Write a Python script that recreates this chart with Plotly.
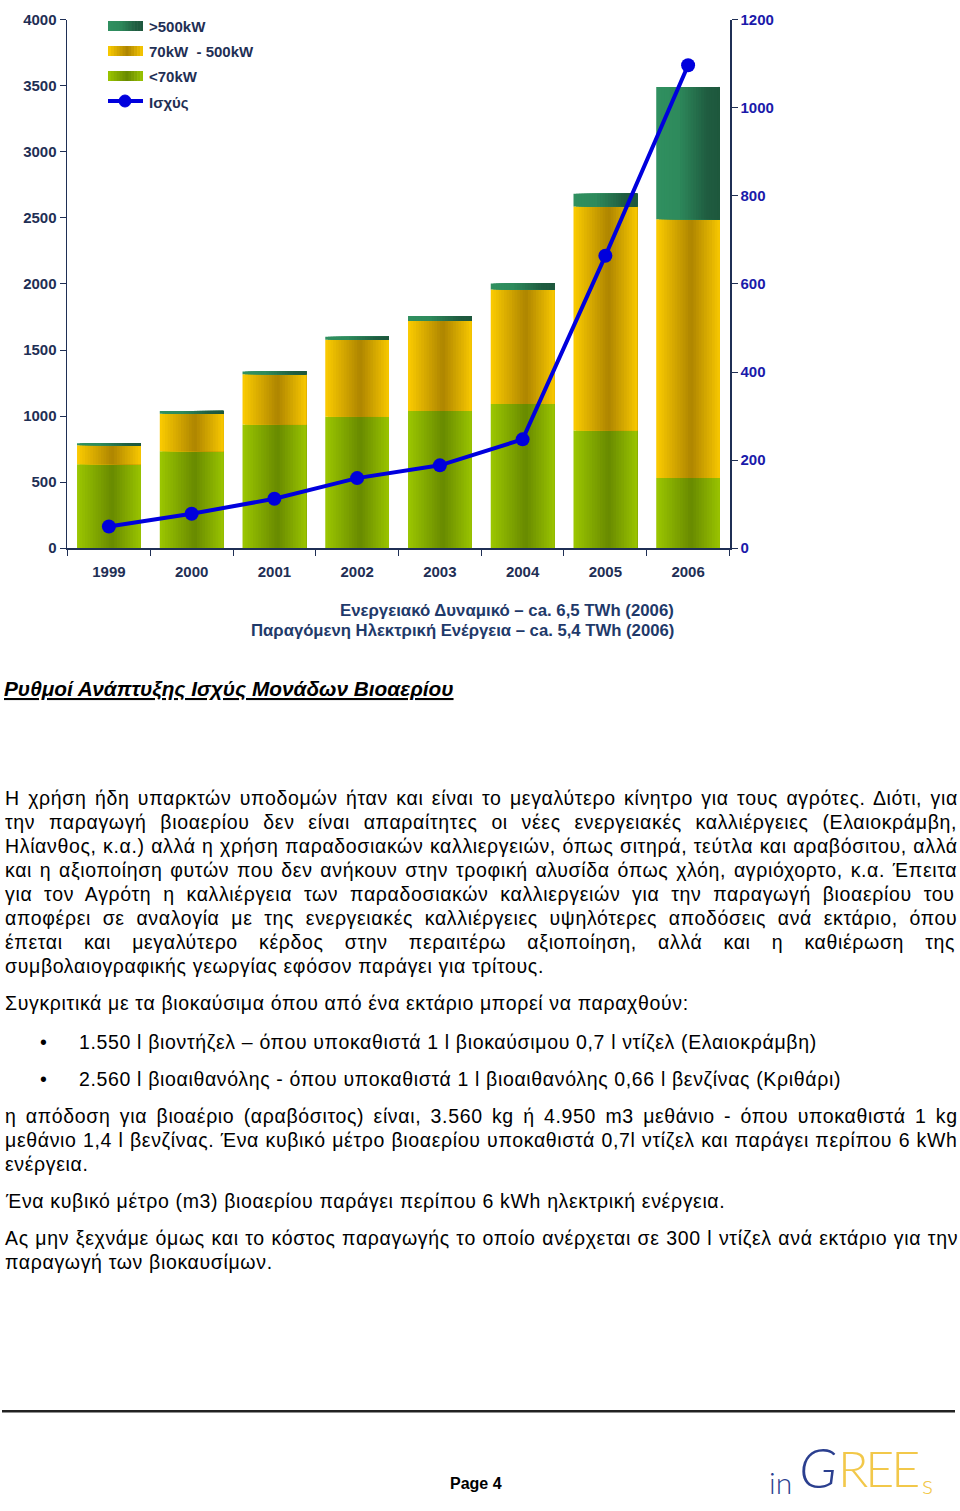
import plotly.graph_objects as go

# ---------------- data ----------------
years = ['1999', '2000', '2001', '2002', '2003', '2004', '2005', '2006']
small_lt70 = [635, 733, 935, 994, 1039, 1092, 890, 531]        # <70kW
mid_70_500 = [143, 284, 381, 584, 681, 867, 1697, 1959]        # 70kW - 500kW
large_gt500 = [15, 22, 22, 22, 37, 45, 97, 1002]               # >500kW
power = [49, 78, 112, 159, 188, 247, 664, 1097]                # Ισχύς (right axis)

left_ticks = [0, 500, 1000, 1500, 2000, 2500, 3000, 3500, 4000]
right_ticks = [0, 200, 400, 600, 800, 1000, 1200]

series_names = ['<70kW', '70kW  - 500kW', '>500kW']
line_name = 'Ισχύς'

W, H = 960, 1511
PX0, PX1, PY0, PY1 = 67, 730, 12, 547   # plot area in target px

NAVY = '#1f2f55'
BLUE = '#0000dd'
FONT = 'Arial, Liberation Sans, sans-serif'

green_stops = [(0, (0x9c, 0xc7, 0x00)), (0.55, (0x68, 0x8a, 0x00)), (1, (0x9a, 0xc4, 0x00))]
yellow_stops = [(0, (0xfc, 0xcc, 0x00)), (0.55, (0xae, 0x85, 0x00)), (1, (0xf8, 0xc8, 0x00))]
dgreen_stops = [(0, (0x30, 0x90, 0x60)), (0.35, (0x2e, 0x8a, 0x5c)), (0.8, (0x1f, 0x5c, 0x40)), (1, (0x1e, 0x57, 0x3d))]


def grad(stops, t):
    for (t0, c0), (t1, c1) in zip(stops[:-1], stops[1:]):
        if t0 <= t <= t1:
            f = (t - t0) / (t1 - t0) if t1 > t0 else 0
            c = [round(a + (b - a) * f) for a, b in zip(c0, c1)]
            return 'rgb(%d,%d,%d)' % tuple(c)
    return 'rgb(%d,%d,%d)' % stops[-1][1]


# the photographed page comes out offset and slightly squeezed vertically; compensate
Y_OFF, Y_SCALE = 8.0, 0.9886


def ymap(y):
    return min(max((y - Y_OFF) / Y_SCALE, 0.0), H)


def px2paper(x, y):
    return x / W, 1 - ymap(y) / H


fig = go.Figure()

NSTRIP = 24
BW = 0.77
segments = [
    (small_lt70, [0] * len(years), green_stops),
    (mid_70_500, small_lt70, yellow_stops),
    (large_gt500, [a + b for a, b in zip(small_lt70, mid_70_500)], dgreen_stops),
]
for (vals, base, stops), name in zip(segments, series_names):
    for k in range(NSTRIP):
        start = -BW / 2 + k * BW / NSTRIP
        width = BW / 2 - start
        t = (k + 0.5) / NSTRIP
        fig.add_trace(go.Bar(
            x=years, y=vals, base=base, offset=start, width=width,
            marker=dict(color=grad(stops, t), line=dict(width=0)),
            name=name, showlegend=False, hoverinfo='skip'))

fig.add_trace(go.Scatter(
    x=years, y=power, yaxis='y2', mode='lines+markers', name=line_name,
    line=dict(color=BLUE, width=4), marker=dict(color=BLUE, size=14),
    showlegend=False, hoverinfo='skip'))

tickfont = dict(family=FONT, size=15, color=NAVY, weight='bold')
# top of the value axes kept low enough that the top tick labels stay inside the page
ydom = [1 - ymap(PY1) / H, 1 - 11.0 / H]
fig.update_layout(
    width=W, height=H, margin=dict(l=0, r=0, t=0, b=0),
    paper_bgcolor='white', plot_bgcolor='white', barmode='overlay',
    showlegend=False, hovermode=False,
    xaxis=dict(domain=[PX0 / W, PX1 / W], type='category', showline=True,
               linecolor=NAVY, linewidth=1.5, ticks='outside', tickson='boundaries',
               ticklen=6, tickcolor=NAVY, tickfont=tickfont, showgrid=False,
               zeroline=False, ticklabelstandoff=9),
    yaxis=dict(domain=ydom, range=[0, 4000], tickvals=left_ticks,
               showline=True, linecolor=NAVY, linewidth=1.5, ticks='outside', ticklen=6,
               tickcolor=NAVY, tickfont=tickfont, showgrid=False, zeroline=False,
               ticklabeloverflow='allow'),
    yaxis2=dict(overlaying='y', side='right', anchor='x', range=[0, 1200],
                tickvals=right_ticks, showline=True, linecolor=NAVY, linewidth=1.5,
                ticks='outside', ticklen=6, tickcolor=NAVY,
                tickfont=dict(family=FONT, size=15, color='#1a1aaa', weight='bold'),
                showgrid=False, zeroline=False, ticklabeloverflow='allow'),
)

shapes = []
annotations = []

# ---- custom legend ----
legend_items = [('>500kW', dgreen_stops, 25), ('70kW  - 500kW', yellow_stops, 50), ('<70kW', green_stops, 75)]
for label, stops, yc in legend_items:
    n = 12
    for k in range(n):
        xa = 108 + 35 * k / n
        xb = 108 + 35 * (k + 1) / n + 0.6
        x0p, y0p = px2paper(xa, yc - 5)
        x1p, y1p = px2paper(min(xb, 143), yc + 5)
        shapes.append(dict(type='rect', xref='paper', yref='paper', x0=x0p, x1=x1p,
                           y0=y1p, y1=y0p, line=dict(width=0),
                           fillcolor=grad(stops, (k + 0.5) / n), layer='above'))
    xp, yp = px2paper(147, yc)
    annotations.append(dict(text=label, x=xp, y=yp, xref='paper', yref='paper',
                            xanchor='left', yanchor='middle', showarrow=False,
                            font=dict(family=FONT, size=15, color=NAVY, weight='bold')))
x0p, yp = px2paper(108, 100)
x1p, _ = px2paper(143, 100)
shapes.append(dict(type='line', xref='paper', yref='paper', x0=x0p, x1=x1p, y0=yp, y1=yp,
                   line=dict(color=BLUE, width=4)))
cx0, cy0 = px2paper(119, 94)
cx1, cy1 = px2paper(131, 106)
shapes.append(dict(type='circle', xref='paper', yref='paper', x0=cx0, x1=cx1, y0=cy1, y1=cy0,
                   fillcolor=BLUE, line=dict(color=BLUE, width=1)))
xp, yp = px2paper(147, 101)
annotations.append(dict(text=line_name, x=xp, y=yp, xref='paper', yref='paper',
                        xanchor='left', yanchor='middle', showarrow=False,
                        font=dict(family=FONT, size=15, color=NAVY, weight='bold')))


def add_text(txt, x, y, size, xanchor='left', color='black', weight='normal', style='normal'):
    xp, yp = px2paper(x, y)
    annotations.append(dict(text=txt, x=xp, y=yp, xref='paper', yref='paper',
                            xanchor=xanchor, yanchor='middle', showarrow=False,
                            font=dict(family=FONT, size=size, color=color, weight=weight,
                                      style=style)))


# chart caption
add_text('Ενεργειακό Δυναμικό – ca. 6,5 TWh (2006)', 676, 609, 16.8, 'right', '#1f3a6a', 'bold')
add_text('Παραγόμενη Ηλεκτρική Ενέργεια – ca. 5,4 TWh (2006)', 676, 629, 16.7, 'right', '#1f3a6a', 'bold')

# heading
add_text('<u>Ρυθμοί Ανάπτυξης Ισχύς Μονάδων Βιοαερίου</u>', 2, 688, 20.8, 'left', 'black', 'bold', 'italic')

# --- body text, approximate Arial advance widths (per 1000 em) for justification ---
CW = {' ': 278, '.': 278, ',': 278, ':': 278, '(': 333, ')': 333, '-': 333, '–': 556,
      'α': 578, 'ά': 578, 'β': 575, 'γ': 500, 'δ': 556, 'ε': 446, 'έ': 446, 'ζ': 441,
      'η': 556, 'ή': 556, 'θ': 556, 'ι': 222, 'ί': 222, 'κ': 500, 'λ': 500, 'μ': 576,
      'ν': 500, 'ξ': 448, 'ο': 556, 'ό': 556, 'π': 690, 'ρ': 571, 'σ': 617, 'ς': 481,
      'τ': 441, 'υ': 546, 'ύ': 546, 'φ': 719, 'χ': 523, 'ψ': 712, 'ω': 780, 'ώ': 780,
      'Η': 722, 'Δ': 668, 'Ε': 667, 'Έ': 778, 'Α': 667, 'Σ': 618, 'Ά': 667, 'Κ': 667,
      'l': 222, 'k': 500, 'g': 556, 'm': 833, 'W': 944, 'h': 556}
BODY = 19.5
LS = 0.65          # letter spacing px
LEFT, RIGHT = 3, 958


def natural_width(s):
    return sum(CW.get(c, 556) for c in s) * BODY / 1000 + LS * len(s)


def body_line(txt, y, justify=False, x=LEFT, extra=0.0):
    ws = 0.0
    if justify:
        ns = txt.count(' ')
        ws = (RIGHT + extra - x - natural_width(txt)) / ns
    txt = '<span style="letter-spacing:%.2fpx;word-spacing:%.2fpx">%s</span>' % (LS, ws, txt)
    add_text(txt, x, y, BODY)


p1 = [
    'Η χρήση ήδη υπαρκτών υποδομών ήταν και είναι το μεγαλύτερο κίνητρο για τους αγρότες. Διότι, για',
    'την παραγωγή βιοαερίου δεν είναι απαραίτητες οι νέες ενεργειακές καλλιέργειες (Ελαιοκράμβη,',
    'Ηλίανθος, κ.α.) αλλά η χρήση παραδοσιακών καλλιεργειών, όπως σιτηρά, τεύτλα και αραβόσιτου, αλλά',
    'και η αξιοποίηση φυτών που δεν ανήκουν στην τροφική αλυσίδα όπως χλόη, αγριόχορτο, κ.α. Έπειτα',
    'για τον Αγρότη η καλλιέργεια των παραδοσιακών καλλιεργειών για την παραγωγή βιοαερίου του',
    'αποφέρει σε αναλογία με της ενεργειακές καλλιέργειες υψηλότερες αποδόσεις ανά εκτάριο, όπου',
    'έπεται και μεγαλύτερο κέρδος στην περαιτέρω αξιοποίηση, αλλά και η καθιέρωση της',
    'συμβολαιογραφικής γεωργίας εφόσον παράγει για τρίτους.',
]
p1_extra = [9, 1, 4, 9, 3, 4, 2, 0]
for i, t in enumerate(p1):
    body_line(t, 797 + 24 * i, justify=(i < len(p1) - 1), extra=p1_extra[i])

body_line('Συγκριτικά με τα βιοκαύσιμα όπου από ένα εκτάριο μπορεί να παραχθούν:', 1002)

bullets = [
    '1.550 l βιοντήζελ – όπου υποκαθιστά 1 l βιοκαύσιμου 0,7 l ντίζελ (Ελαιοκράμβη)',
    '2.560 l βιοαιθανόλης - όπου υποκαθιστά 1 l βιοαιθανόλης 0,66 l βενζίνας (Κριθάρι)',
]
for i, t in enumerate(bullets):
    add_text('•', 43, 1041 + 37 * i, BODY, 'center')
    body_line(t, 1041 + 37 * i, x=77)

p3 = [
    'η απόδοση για βιοαέριο (αραβόσιτος) είναι, 3.560 kg ή 4.950 m3 μεθάνιο - όπου υποκαθιστά 1 kg',
    'μεθάνιο 1,4 l βενζίνας. Ένα κυβικό μέτρο βιοαερίου υποκαθιστά 0,7l ντίζελ και παράγει περίπου 6 kWh',
    'ενέργεια.',
]
p3_extra = [1, 2, 0]
for i, t in enumerate(p3):
    body_line(t, 1115 + 24 * i, justify=(i < len(p3) - 1), extra=p3_extra[i])

body_line('Ένα κυβικό μέτρο (m3) βιοαερίου παράγει περίπου 6 kWh ηλεκτρική ενέργεια.', 1200)

p5 = [
    'Ας μην ξεχνάμε όμως και το κόστος παραγωγής το οποίο ανέρχεται σε 300 l ντίζελ ανά εκτάριο για την',
    'παραγωγή των βιοκαυσίμων.',
]
p5_extra = [7, 0]
for i, t in enumerate(p5):
    body_line(t, 1237 + 24 * i, justify=(i < len(p5) - 1), extra=p5_extra[i])

# footer rule
x0p, yp = px2paper(2, 1410)
x1p, _ = px2paper(955, 1410)
shapes.append(dict(type='line', xref='paper', yref='paper', x0=x0p, x1=x1p, y0=yp, y1=yp,
                   line=dict(color='#222222', width=2.5)))

add_text('Page 4', 476, 1482, 16, 'center', 'black', 'bold')

# logo (boxes kept fully inside the page)
LOGO_FONT = 'Lato, DejaVu Sans, sans-serif'


def logo(txt, x, y_bottom, size, color, style='normal', ls=0):
    xp = x / W
    yp = 1 - min(y_bottom, H - 1) / H
    annotations.append(dict(text='<span style="letter-spacing:%dpx">%s</span>' % (ls, txt),
                            x=xp, y=yp, xref='paper', yref='paper',
                            xanchor='left', yanchor='bottom', showarrow=False,
                            font=dict(family=LOGO_FONT, size=size, color=color, weight=300,
                                      style=style)))


logo('in', 767, 1510, 30, '#2b3f8f')
logo('G', 797, 1510, 56, '#2b3f8f', 'italic')
logo('REE', 836, 1508, 50, '#f2c84a', ls=-3)
logo('s', 920, 1510, 26, '#f2c84a')

fig.update_layout(shapes=shapes, annotations=annotations)
fig.write_html('out.html', config={'displayModeBar': False, 'staticPlot': True},
               post_script="document.body.style.margin='0px';"
                           "document.documentElement.style.overflow='hidden';")
